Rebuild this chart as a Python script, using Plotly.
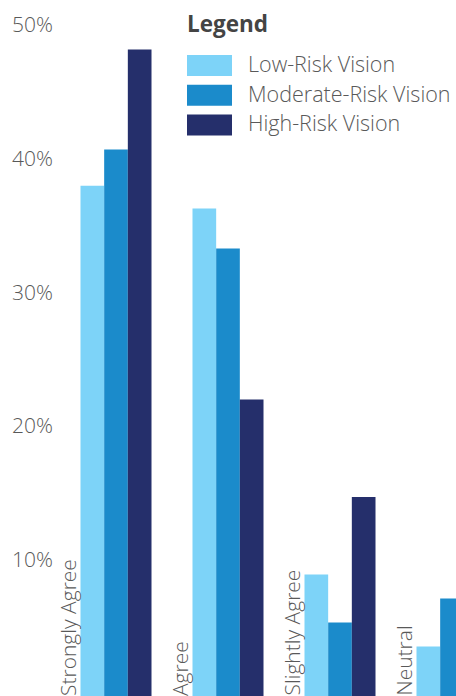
import plotly.graph_objects as go

categories = ["Strongly Agree", "Agree", "Slightly Agree", "Neutral"]
series_names = ["Low-Risk Vision", "Moderate-Risk Vision", "High-Risk Vision"]
low_risk = [38.2, 36.5, 9.1, 3.7]
moderate_risk = [40.9, 33.5, 5.5, 7.3]
high_risk = [48.4, 22.2, 14.9, None]
tick_values = [10, 20, 30, 40, 50]
tick_labels = ["10%", "20%", "30%", "40%", "50%"]

colors = ["#7dd3f8", "#1b8bcb", "#252f6b"]
text_color = "#595959"
W, H = 456, 696
FONT = "Open Sans"

fig = go.Figure()
xs = list(range(len(categories)))
for name, vals, col in zip(series_names, [low_risk, moderate_risk, high_risk], colors):
    fig.add_trace(go.Bar(x=xs, y=vals, name=name, marker=dict(color=col, line=dict(width=0)),
                         showlegend=False))

group_half = 0.317
annotations = []
for i, cat in enumerate(categories):
    annotations.append(dict(x=i - group_half, y=0, xref="x", yref="y", text=cat, showarrow=False,
                            textangle=-90, xanchor="right", yanchor="bottom", yshift=-2, xshift=3,
                            font=dict(family=FONT, size=21, color=text_color, weight=300)))

# custom legend
def px_x(p):
    return p / W

def px_y(p):
    return 1 - p / H

annotations.append(dict(x=px_x(185), y=px_y(23), xref="paper", yref="paper", text="<b>Legend</b>",
                        showarrow=False, xanchor="left", yanchor="middle",
                        font=dict(family=FONT, size=22.5, color="#444444")))
shapes = []
for k, (name, col) in enumerate(zip(series_names, colors)):
    top = 55 + 29.7 * k
    shapes.append(dict(type="rect", xref="paper", yref="paper", x0=px_x(187), x1=px_x(232),
                       y0=px_y(top + 21), y1=px_y(top), fillcolor=col, line=dict(width=0)))
    annotations.append(dict(x=px_x(246), y=px_y(top + 8.5), xref="paper", yref="paper", text=name,
                            showarrow=False, xanchor="left", yanchor="middle",
                            font=dict(family=FONT, size=21.5, color=text_color, weight=300)))

fig.update_layout(
    width=W, height=H, margin=dict(l=0, r=0, t=0, b=0),
    paper_bgcolor="white", plot_bgcolor="white",
    barmode="group", bargap=0.366, bargroupgap=0,
    xaxis=dict(range=[-116 / 112, 340 / 112], showticklabels=False, showgrid=False,
               zeroline=False, showline=False, ticks=""),
    yaxis=dict(range=[0, 52.1], tickvals=tick_values, ticktext=tick_labels,
               ticklabelposition="inside", ticklabelstandoff=9, ticklabelshift=-3,
               showgrid=False, zeroline=False, showline=False, ticks="",
               tickfont=dict(family=FONT, size=21, color=text_color, weight=300)),
    annotations=annotations, shapes=shapes,
)

fig.write_html("out.html", config={"displayModeBar": False},
               post_script="document.body.style.margin='0';document.body.style.overflow='hidden';")
